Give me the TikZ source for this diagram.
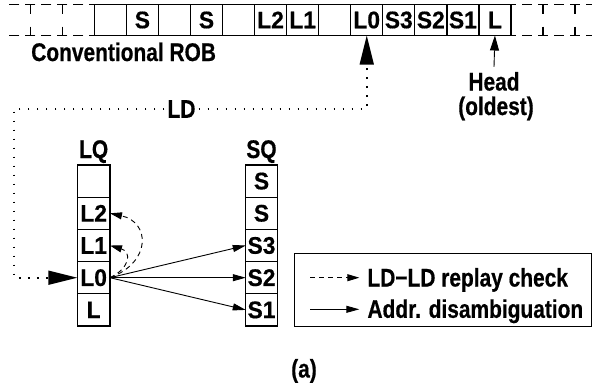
\documentclass[tikz,border=0pt]{standalone}
\usepackage{fontspec}
\setmainfont{Liberation Sans}
\newfontfamily\lblfont{Liberation Sans Bold}[FakeStretch=0.82, FakeBold=0.5]
\newfontfamily\cellfont{Liberation Sans Bold}[FakeStretch=0.95, FakeBold=0.5]
\usetikzlibrary{arrows.meta}
\tikzset{
  cell/.style={draw, line width=1.3pt, minimum width=32.05pt, minimum height=31pt,
    inner sep=0pt, outer sep=0pt, font=\cellfont\fontsize{24}{26}\selectfont},
  qcell/.style={cell, minimum width=32.7pt, minimum height=32.2pt},
  lbl/.style={inner sep=0pt, font=\lblfont\fontsize{25.5}{28}\selectfont},
  arr/.style={-{Triangle[length=13pt,width=7pt]}, line width=0.9pt},
  headarr/.style={-{Triangle[length=15pt,width=9pt]}, line width=0.9pt},
  dasharr/.style={-{Triangle[length=12pt,width=7pt]}, line width=0.9pt, dash pattern=on 5pt off 4pt},
  bigarr/.style={-{Triangle[length=29pt,width=14pt]}, line width=1.6pt, line cap=butt,
    dash pattern=on 1.6pt off 7.4pt},
  robdashh/.style={line width=1.3pt, dash pattern=on 10pt off 6pt, dash phase=5pt},
  robdashv/.style={line width=1.3pt, dash pattern=on 9pt off 13pt},
}
\begin{document}
\begin{tikzpicture}[x=1pt,y=-1pt]
\useasboundingbox (0,0) rectangle (592,391);
% ---- ROB cells
\foreach \i/\t in {0/,1/S,2/,3/S,4/,5/L2,6/L1,7/,8/L0,9/S3,10/S2,11/S1,12/L}
  \node[cell] (r\i) at ({110.33+32.05*\i},20) {\t};
% dashed extensions of the ROB
\draw[robdashh] (94.3,4.5) -- (8,4.5);
\draw[robdashh] (94.3,35.5) -- (8,35.5);
\draw[robdashh] (511,4.5) -- (592,4.5);
\draw[robdashh] (511,35.5) -- (592,35.5);
\foreach \x in {30.2,62.2,543,575}
  \draw[robdashv] (\x,4.5) -- (\x,35.5);
\node[lbl, anchor=base] (conv) at (123.6,61) {Conventional ROB};
% ---- Head
\node[lbl, anchor=base] (head1) at (494,90.5) {Head};
\node[lbl, anchor=base] (head2) at (496,115) {(oldest)};
\draw[headarr] ([yshift=5pt]head1.north) -- (r12.south);
% ---- LQ and SQ
\node[lbl, anchor=base] (lqlbl) at (93.65,158) {LQ};
\node[lbl, anchor=base] (sqlbl) at (261.5,158) {SQ};
\foreach \j/\t in {0/,1/L2,2/L1,3/L0,4/L}
  \node[qcell] (l\j) at (93.65,{181.1+32.2*\j}) {\t};
\foreach \j/\t in {0/S,1/S,2/S3,3/S2,4/S1}
  \node[qcell, minimum width=31.5pt] (s\j) at (261.5,{181.1+32.2*\j}) {\t};
% ---- LD path
\node[lbl, inner xsep=3pt] (ld) at (181.5,109) {LD};
\coordinate (corner) at (14,109);
\draw[bigarr] (ld.east) -| (r8.south);
\draw[bigarr] (ld.west) -- (corner) |- (l3.west);
% ---- disambiguation arrows
\draw[arr] (l3.east) -- (s2.west);
\draw[arr] (l3.east) -- (s3.west);
\draw[arr] (l3.east) -- (s4.west);
% ---- replay check arrows
\draw[dasharr] (l3.east) .. controls +(42,-15.7) and +(40,8.7) .. (l1.east);
\draw[dasharr] (l3.east) .. controls +(20,-9.7) and +(22,6.5) .. (l2.east);
% ---- legend
\node[draw, line width=1pt, minimum width=296.7pt, minimum height=72.7pt, inner sep=0pt]
  (legend) at (442.65,289.65) {};
\coordinate (la1) at (310,277.7);
\coordinate (lb1) at (359.3,277.7);
\coordinate (la2) at (310,309.3);
\coordinate (lb2) at (359.3,309.3);
\draw[dasharr] (la1) -- (lb1);
\draw[arr] (la2) -- (lb2);
\node[lbl, anchor=base west] (leg1) at (367.3,286.5) {LD−LD replay check};
\node[lbl, anchor=base west] (leg2) at (367.3,317.8) {Addr. disambiguation};
% ---- caption
\node[lbl, anchor=base] (cap) at (304,377.5) {(a)};
\end{tikzpicture}
\end{document}
